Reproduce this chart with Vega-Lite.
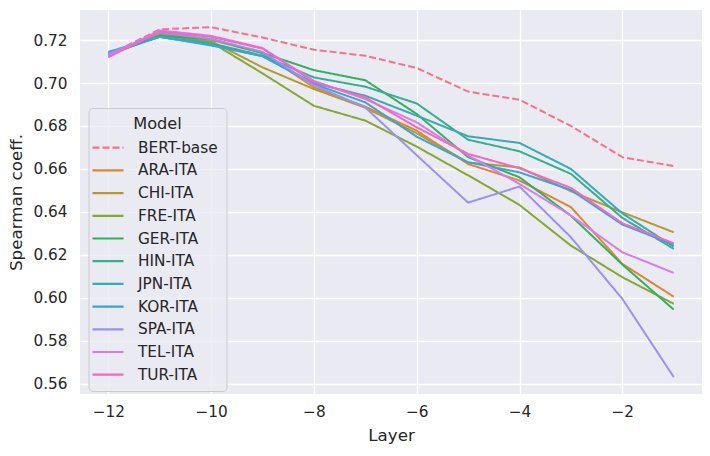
{
  "$schema": "https://vega.github.io/schema/vega-lite/v6.json",
  "width": 622,
  "height": 384,
  "autosize": {"type": "none"},
  "padding": {"left": 80, "top": 10, "right": 8, "bottom": 62},
  "background": "white",
  "config": {
    "font": "DejaVu Sans",
    "view": {"fill": "#EAEAF2", "stroke": null},
    "axis": {
      "domain": false, "ticks": false, "grid": true, "gridColor": "white", "gridWidth": 1.3,
      "labelFont": "DejaVu Sans", "labelFontSize": 15.3, "labelColor": "#262626",
      "titleFont": "DejaVu Sans", "titleFontSize": 16.7, "titleColor": "#262626", "titleFontWeight": "normal"
    },
    "legend": {
      "labelFont": "DejaVu Sans", "titleFont": "DejaVu Sans", "labelColor": "#262626", "titleColor": "#262626"
    }
  },
  "data": {"values": [
    {"Layer":-12,"Model":"BERT-base","coef":0.713},{"Layer":-11,"Model":"BERT-base","coef":0.725},{"Layer":-10,"Model":"BERT-base","coef":0.726},{"Layer":-9,"Model":"BERT-base","coef":0.7212},{"Layer":-8,"Model":"BERT-base","coef":0.7155},{"Layer":-7,"Model":"BERT-base","coef":0.7127},{"Layer":-6,"Model":"BERT-base","coef":0.707},{"Layer":-5,"Model":"BERT-base","coef":0.696},{"Layer":-4,"Model":"BERT-base","coef":0.6922},{"Layer":-3,"Model":"BERT-base","coef":0.68},{"Layer":-2,"Model":"BERT-base","coef":0.6655},{"Layer":-1,"Model":"BERT-base","coef":0.6613},
    {"Layer":-12,"Model":"ARA-ITA","coef":0.7125},{"Layer":-11,"Model":"ARA-ITA","coef":0.7235},{"Layer":-10,"Model":"ARA-ITA","coef":0.72},{"Layer":-9,"Model":"ARA-ITA","coef":0.714},{"Layer":-8,"Model":"ARA-ITA","coef":0.698},{"Layer":-7,"Model":"ARA-ITA","coef":0.689},{"Layer":-6,"Model":"ARA-ITA","coef":0.6778},{"Layer":-5,"Model":"ARA-ITA","coef":0.6623},{"Layer":-4,"Model":"ARA-ITA","coef":0.6546},{"Layer":-3,"Model":"ARA-ITA","coef":0.6422},{"Layer":-2,"Model":"ARA-ITA","coef":0.6158},{"Layer":-1,"Model":"ARA-ITA","coef":0.6005},
    {"Layer":-12,"Model":"CHI-ITA","coef":0.713},{"Layer":-11,"Model":"CHI-ITA","coef":0.723},{"Layer":-10,"Model":"CHI-ITA","coef":0.7195},{"Layer":-9,"Model":"CHI-ITA","coef":0.7073},{"Layer":-8,"Model":"CHI-ITA","coef":0.6972},{"Layer":-7,"Model":"CHI-ITA","coef":0.6885},{"Layer":-6,"Model":"CHI-ITA","coef":0.6766},{"Layer":-5,"Model":"CHI-ITA","coef":0.663},{"Layer":-4,"Model":"CHI-ITA","coef":0.6607},{"Layer":-3,"Model":"CHI-ITA","coef":0.6496},{"Layer":-2,"Model":"CHI-ITA","coef":0.6398},{"Layer":-1,"Model":"CHI-ITA","coef":0.6305},
    {"Layer":-12,"Model":"FRE-ITA","coef":0.7135},{"Layer":-11,"Model":"FRE-ITA","coef":0.7225},{"Layer":-10,"Model":"FRE-ITA","coef":0.719},{"Layer":-9,"Model":"FRE-ITA","coef":0.7045},{"Layer":-8,"Model":"FRE-ITA","coef":0.6894},{"Layer":-7,"Model":"FRE-ITA","coef":0.6825},{"Layer":-6,"Model":"FRE-ITA","coef":0.6704},{"Layer":-5,"Model":"FRE-ITA","coef":0.657},{"Layer":-4,"Model":"FRE-ITA","coef":0.6432},{"Layer":-3,"Model":"FRE-ITA","coef":0.6243},{"Layer":-2,"Model":"FRE-ITA","coef":0.6096},{"Layer":-1,"Model":"FRE-ITA","coef":0.5972},
    {"Layer":-12,"Model":"GER-ITA","coef":0.713},{"Layer":-11,"Model":"GER-ITA","coef":0.722},{"Layer":-10,"Model":"GER-ITA","coef":0.7205},{"Layer":-9,"Model":"GER-ITA","coef":0.714},{"Layer":-8,"Model":"GER-ITA","coef":0.706},{"Layer":-7,"Model":"GER-ITA","coef":0.7013},{"Layer":-6,"Model":"GER-ITA","coef":0.6856},{"Layer":-5,"Model":"GER-ITA","coef":0.6655},{"Layer":-4,"Model":"GER-ITA","coef":0.6561},{"Layer":-3,"Model":"GER-ITA","coef":0.6382},{"Layer":-2,"Model":"GER-ITA","coef":0.6155},{"Layer":-1,"Model":"GER-ITA","coef":0.5945},
    {"Layer":-12,"Model":"HIN-ITA","coef":0.7135},{"Layer":-11,"Model":"HIN-ITA","coef":0.7215},{"Layer":-10,"Model":"HIN-ITA","coef":0.7185},{"Layer":-9,"Model":"HIN-ITA","coef":0.7128},{"Layer":-8,"Model":"HIN-ITA","coef":0.7026},{"Layer":-7,"Model":"HIN-ITA","coef":0.6983},{"Layer":-6,"Model":"HIN-ITA","coef":0.6905},{"Layer":-5,"Model":"HIN-ITA","coef":0.6736},{"Layer":-4,"Model":"HIN-ITA","coef":0.6682},{"Layer":-3,"Model":"HIN-ITA","coef":0.6577},{"Layer":-2,"Model":"HIN-ITA","coef":0.6372},{"Layer":-1,"Model":"HIN-ITA","coef":0.6228},
    {"Layer":-12,"Model":"JPN-ITA","coef":0.714},{"Layer":-11,"Model":"JPN-ITA","coef":0.7215},{"Layer":-10,"Model":"JPN-ITA","coef":0.7178},{"Layer":-9,"Model":"JPN-ITA","coef":0.7125},{"Layer":-8,"Model":"JPN-ITA","coef":0.7},{"Layer":-7,"Model":"JPN-ITA","coef":0.6941},{"Layer":-6,"Model":"JPN-ITA","coef":0.6848},{"Layer":-5,"Model":"JPN-ITA","coef":0.6752},{"Layer":-4,"Model":"JPN-ITA","coef":0.6721},{"Layer":-3,"Model":"JPN-ITA","coef":0.66},{"Layer":-2,"Model":"JPN-ITA","coef":0.6393},{"Layer":-1,"Model":"JPN-ITA","coef":0.6238},
    {"Layer":-12,"Model":"KOR-ITA","coef":0.7145},{"Layer":-11,"Model":"KOR-ITA","coef":0.7215},{"Layer":-10,"Model":"KOR-ITA","coef":0.7175},{"Layer":-9,"Model":"KOR-ITA","coef":0.7125},{"Layer":-8,"Model":"KOR-ITA","coef":0.6995},{"Layer":-7,"Model":"KOR-ITA","coef":0.691},{"Layer":-6,"Model":"KOR-ITA","coef":0.675},{"Layer":-5,"Model":"KOR-ITA","coef":0.6631},{"Layer":-4,"Model":"KOR-ITA","coef":0.6584},{"Layer":-3,"Model":"KOR-ITA","coef":0.6502},{"Layer":-2,"Model":"KOR-ITA","coef":0.6341},{"Layer":-1,"Model":"KOR-ITA","coef":0.6248},
    {"Layer":-12,"Model":"SPA-ITA","coef":0.7135},{"Layer":-11,"Model":"SPA-ITA","coef":0.7235},{"Layer":-10,"Model":"SPA-ITA","coef":0.7205},{"Layer":-9,"Model":"SPA-ITA","coef":0.7145},{"Layer":-8,"Model":"SPA-ITA","coef":0.699},{"Layer":-7,"Model":"SPA-ITA","coef":0.6886},{"Layer":-6,"Model":"SPA-ITA","coef":0.6664},{"Layer":-5,"Model":"SPA-ITA","coef":0.6443},{"Layer":-4,"Model":"SPA-ITA","coef":0.6518},{"Layer":-3,"Model":"SPA-ITA","coef":0.6282},{"Layer":-2,"Model":"SPA-ITA","coef":0.5995},{"Layer":-1,"Model":"SPA-ITA","coef":0.5631},
    {"Layer":-12,"Model":"TEL-ITA","coef":0.7125},{"Layer":-11,"Model":"TEL-ITA","coef":0.7245},{"Layer":-10,"Model":"TEL-ITA","coef":0.722},{"Layer":-9,"Model":"TEL-ITA","coef":0.7163},{"Layer":-8,"Model":"TEL-ITA","coef":0.701},{"Layer":-7,"Model":"TEL-ITA","coef":0.6925},{"Layer":-6,"Model":"TEL-ITA","coef":0.6817},{"Layer":-5,"Model":"TEL-ITA","coef":0.6663},{"Layer":-4,"Model":"TEL-ITA","coef":0.653},{"Layer":-3,"Model":"TEL-ITA","coef":0.6383},{"Layer":-2,"Model":"TEL-ITA","coef":0.6212},{"Layer":-1,"Model":"TEL-ITA","coef":0.6116},
    {"Layer":-12,"Model":"TUR-ITA","coef":0.712},{"Layer":-11,"Model":"TUR-ITA","coef":0.724},{"Layer":-10,"Model":"TUR-ITA","coef":0.7215},{"Layer":-9,"Model":"TUR-ITA","coef":0.716},{"Layer":-8,"Model":"TUR-ITA","coef":0.7005},{"Layer":-7,"Model":"TUR-ITA","coef":0.6933},{"Layer":-6,"Model":"TUR-ITA","coef":0.6794},{"Layer":-5,"Model":"TUR-ITA","coef":0.667},{"Layer":-4,"Model":"TUR-ITA","coef":0.6603},{"Layer":-3,"Model":"TUR-ITA","coef":0.6512},{"Layer":-2,"Model":"TUR-ITA","coef":0.6347},{"Layer":-1,"Model":"TUR-ITA","coef":0.6254}
  ]},
  "mark": {"type": "line", "strokeWidth": 2, "clip": true},
  "encoding": {
    "x": {
      "field": "Layer", "type": "quantitative",
      "scale": {"domain": [-12.55, -0.45], "nice": false, "zero": false},
      "axis": {"values": [-12, -10, -8, -6, -4, -2], "format": "d", "labelPadding": 10, "titlePadding": 8, "title": "Layer"}
    },
    "y": {
      "field": "coef", "type": "quantitative",
      "scale": {"domain": [0.5552, 0.7340], "nice": false, "zero": false},
      "axis": {"values": [0.56, 0.58, 0.6, 0.62, 0.64, 0.66, 0.68, 0.7, 0.72], "format": ".2f", "labelPadding": 13, "titlePadding": 7, "title": "Spearman coeff."}
    },
    "color": {
      "field": "Model", "type": "nominal",
      "scale": {
        "domain": ["BERT-base","ARA-ITA","CHI-ITA","FRE-ITA","GER-ITA","HIN-ITA","JPN-ITA","KOR-ITA","SPA-ITA","TEL-ITA","TUR-ITA"],
        "range": ["#f77189","#e08531","#b59a32","#86a731","#33b05e","#35ae91","#37abb3","#3ba3d8","#9a91f4","#d87af2","#f567c4"]
      },
      "legend": {
        "title": "Model", "orient": "none", "legendX": 8.5, "legendY": 98,
        "fillColor": "rgba(234,234,242,0.8)", "strokeColor": "#cccccc", "cornerRadius": 4, "padding": 8,
        "titleFontSize": 16.2, "titleFontWeight": "normal", "titleAnchor": "middle", "titlePadding": 4,
        "labelFontSize": 15.3, "labelOffset": 18.5, "rowPadding": 2.7,
        "symbolType": "M-1.55,0H1.55", "symbolSize": 400, "symbolStrokeWidth": 2.2
      }
    },
    "strokeDash": {
      "field": "Model", "type": "nominal",
      "scale": {
        "domain": ["BERT-base","ARA-ITA","CHI-ITA","FRE-ITA","GER-ITA","HIN-ITA","JPN-ITA","KOR-ITA","SPA-ITA","TEL-ITA","TUR-ITA"],
        "range": [[7,3],[1,0],[1,0],[1,0],[1,0],[1,0],[1,0],[1,0],[1,0],[1,0],[1,0]]
      },
      "legend": {"title": "Model"}
    }
  }
}
